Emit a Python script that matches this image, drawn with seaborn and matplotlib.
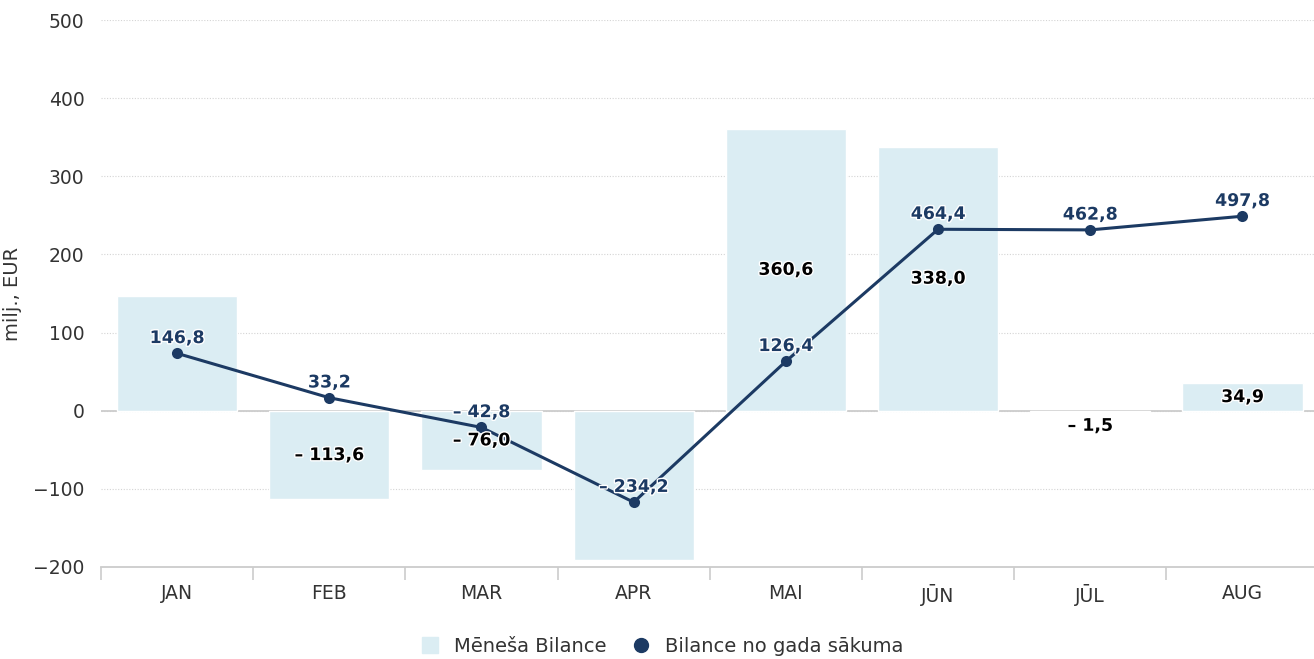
import matplotlib
matplotlib.use("Agg")
import matplotlib.pyplot as plt
import matplotlib.patheffects as pe
from matplotlib.lines import Line2D
import seaborn as sns
import numpy as np

months = ["JAN", "FEB", "MAR", "APR", "MAI", "JŪN", "JŪL", "AUG"]
monthly = [146.8, -113.6, -76.0, -191.4, 360.6, 338.0, -1.5, 34.9]
cumulative = [146.8, 33.2, -42.8, -234.2, 126.4, 464.4, 462.8, 497.8]
monthly_label_shown = [False, True, True, False, True, True, True, True]
yticks = [-200, -100, 0, 100, 200, 300, 400, 500]

BAR_C = "#dbedf3"
LINE_C = "#1c3a63"
TXT_C = "#333333"

sns.set_theme(style="white")
plt.rcParams["font.family"] = ["DejaVu Sans"]

fig = plt.figure(figsize=(13.14, 6.59), dpi=100)
ax = fig.add_axes([101/1314, 1-567/659, 1-101/1314, (567-20)/659])

sns.barplot(x=months, y=monthly, color=BAR_C, width=0.79, ax=ax,
            saturation=1, zorder=2)
ax.set_xlim(-0.5, 7.47)
ax.set_ylim(-200, 500)
ax.set_yticks(yticks)
ax.set_yticklabels([("−" + str(abs(t))) if t < 0 else str(t) for t in yticks])
ax.yaxis.grid(True, linestyle=(0, (1, 1.5)), color="#d4d4d4", lw=0.8, zorder=0)
ax.axhline(0, color="#cccccc", lw=1.3, zorder=1)
for s in ["top", "right", "left"]:
    ax.spines[s].set_visible(False)
ax.spines["bottom"].set_color("#cccccc")
ax.spines["bottom"].set_linewidth(1.3)
ax.tick_params(axis="y", length=0, labelsize=13.5, labelcolor=TXT_C, pad=12)
ax.tick_params(axis="x", which="major", length=0, labelsize=13.5, labelcolor=TXT_C, pad=12)
ax.set_xticks(np.arange(-0.5, 8, 1), minor=True)
ax.tick_params(axis="x", which="minor", bottom=True, length=9, color="#cccccc",
               width=1.2, direction="out")
ax.set_ylabel("milj., EUR", fontsize=14, color=TXT_C)
ax.yaxis.set_label_coords(-79/1213, 0.5)
ax.set_xlabel("")

ax2 = ax.twinx()
sns.lineplot(x=np.arange(len(months)), y=cumulative, ax=ax2, color=LINE_C,
             lw=2.2, marker="o", markersize=8, markeredgewidth=0, zorder=3)
ax2.set_ylim(-400, 1000)
ax2.set_xlim(-0.5, 7.47)
ax2.axis("off")


def fmt(v):
    s = f"{abs(v):.1f}".replace(".", ",")
    return ("– " + s) if v < 0 else s


outline = [pe.withStroke(linewidth=2, foreground="white")]
for i, v in enumerate(cumulative):
    ax2.annotate(fmt(v), (i, v), xytext=(0, 11), textcoords="offset points",
                 ha="center", va="center", fontsize=12.5, fontweight="bold",
                 color=LINE_C, zorder=5, path_effects=outline)

for i, (v, show) in enumerate(zip(monthly, monthly_label_shown)):
    if not show:
        continue
    if abs(v) < 20:
        ax2.annotate(fmt(v), (i, v), xycoords=ax.transData, xytext=(0, -10),
                     textcoords="offset points", ha="center", va="center",
                     fontsize=12.5, fontweight="bold", color="black", zorder=6,
                     path_effects=outline)
    else:
        ax2.text(i, v / 2, fmt(v), transform=ax.transData, ha="center",
                 va="center", fontsize=12.5, fontweight="bold", color="black",
                 zorder=6, path_effects=outline)

handles = [
    Line2D([], [], marker="s", linestyle="none", color=BAR_C, markersize=11),
    Line2D([], [], marker="o", linestyle="none", color=LINE_C, markersize=10),
]
fig.legend(handles, ["Mēneša Bilance", "Bilance no gada sākuma"],
           loc="center", bbox_to_anchor=(0.5, 1 - 646/659), ncol=2,
           frameon=False, fontsize=14, handletextpad=0.2, columnspacing=0.8,
           labelcolor=TXT_C)

fig.savefig("out.png", dpi=100)
